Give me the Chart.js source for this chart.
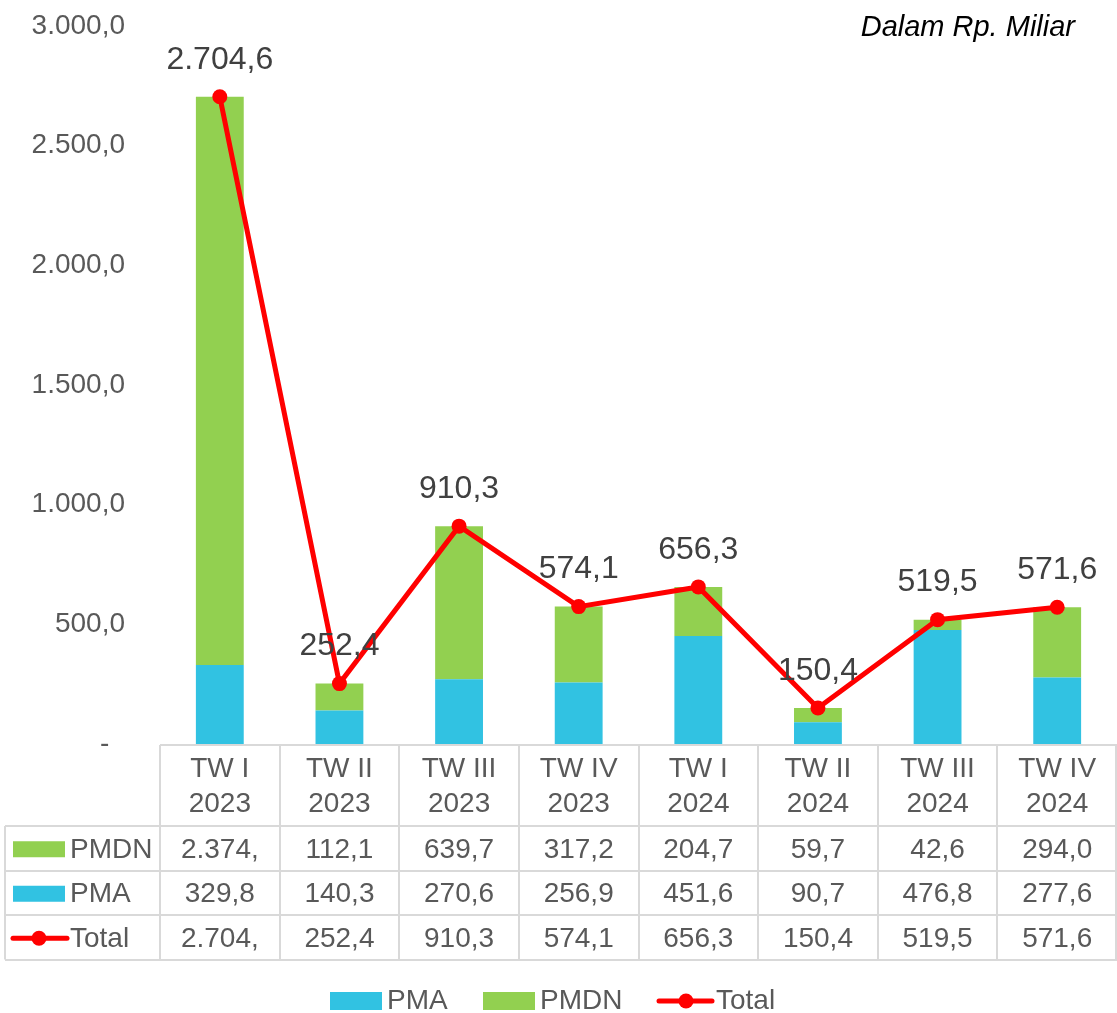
<!DOCTYPE html>
<html>
<head>
<meta charset="utf-8">
<script src="https://cdn.jsdelivr.net/npm/chart.js@4.4.1/dist/chart.umd.min.js"></script>
<style>
  html, body { margin: 0; padding: 0; background: #ffffff; }
  #wrap { position: relative; width: 1117px; height: 1013px; }
</style>
</head>
<body>
<div id="wrap"><canvas id="chart" width="1117" height="1013"></canvas></div>
<script>
// Quarterly investment realisation (Rp. miliar)
const quarters = ['TW I', 'TW II', 'TW III', 'TW IV', 'TW I', 'TW II', 'TW III', 'TW IV'];
const years = ['2023', '2023', '2023', '2023', '2024', '2024', '2024', '2024'];
const pmaValues = [329.8, 140.3, 270.6, 256.9, 451.6, 90.7, 476.8, 277.6];
const pmdnValues = [2374.8, 112.1, 639.7, 317.2, 204.7, 59.7, 42.6, 294.0];
const totalValues = [2704.6, 252.4, 910.3, 574.1, 656.3, 150.4, 519.5, 571.6];
const yTicks = [0, 500, 1000, 1500, 2000, 2500, 3000];

const COLOR_PMA = '#31C2E2';
const COLOR_PMDN = '#92D050';
const COLOR_TOTAL = '#FF0000';
const TEXT = '#595959';
const GRID = '#D9D9D9';
const FONT = '"Liberation Sans", Arial, sans-serif';
const PLOT_TOP = 26;

const fmt = v => v.toLocaleString('id-ID', { minimumFractionDigits: 1, maximumFractionDigits: 1 });

// cut trailing characters until the text fits its cell
function fitText(ctx, s, maxW) {
  let t = s;
  while (t.length > 1 && ctx.measureText(t).width > maxW) t = t.slice(0, -1);
  return t;
}

const labels = quarters.map((q, i) => [q, years[i]]);

// Data table under the plot plus the bottom legend and value labels
const extras = {
  id: 'extras',
  afterDatasetsDraw(chart) {
    const ctx = chart.ctx;
    const meta = chart.getDatasetMeta(2);
    ctx.save();
    ctx.font = '32px ' + FONT;
    ctx.fillStyle = '#404040';
    ctx.textAlign = 'center';
    ctx.textBaseline = 'middle';
    meta.data.forEach((pt, i) => {
      ctx.fillText(fmt(totalValues[i]), pt.x, pt.y - 37);
    });
    ctx.restore();
  },
  afterDraw(chart) {
    const ctx = chart.ctx;
    const x = chart.scales.x;
    const area = chart.chartArea;
    const n = quarters.length;
    const colW = (area.right - area.left) / n;
    const top = area.bottom + 1;
    const headH = 81, rowH = 44.5;
    const tableLeft = 5;
    const rowsTop = top + headH;
    const bottom = rowsTop + rowH * 3;

    ctx.save();
    ctx.strokeStyle = GRID;
    ctx.lineWidth = 2;
    ctx.beginPath();
    ctx.moveTo(area.left, top); ctx.lineTo(area.right, top);
    for (let i = 0; i <= n; i++) {
      const cx = Math.min(Math.round(area.left + i * colW), area.right - 1);
      ctx.moveTo(cx, top); ctx.lineTo(cx, bottom);
    }
    for (let r = 0; r <= 3; r++) {
      const y = Math.round(rowsTop + r * rowH);
      ctx.moveTo(tableLeft, y); ctx.lineTo(area.right, y);
    }
    ctx.moveTo(tableLeft, rowsTop); ctx.lineTo(tableLeft, bottom);
    ctx.stroke();

    ctx.fillStyle = TEXT;
    ctx.font = '28px ' + FONT;
    ctx.textAlign = 'center';
    ctx.textBaseline = 'middle';
    for (let i = 0; i < n; i++) {
      const cx = x.getPixelForValue(i);
      ctx.fillText(quarters[i], cx, top + 24);
      ctx.fillText(years[i], cx, top + 59);
    }

    const rows = [
      { name: 'PMDN', values: pmdnValues, key: 'bar', color: COLOR_PMDN },
      { name: 'PMA', values: pmaValues, key: 'bar', color: COLOR_PMA },
      { name: 'Total', values: totalValues, key: 'line', color: COLOR_TOTAL }
    ];
    rows.forEach((row, r) => {
      const cy = rowsTop + r * rowH + rowH / 2 + 2;
      if (row.key === 'bar') {
        ctx.fillStyle = row.color;
        ctx.fillRect(13, cy - 9, 52, 16);
      } else {
        ctx.strokeStyle = row.color;
        ctx.lineWidth = 5;
        ctx.lineCap = 'round';
        ctx.beginPath(); ctx.moveTo(13, cy - 1); ctx.lineTo(67, cy - 1); ctx.stroke();
        ctx.fillStyle = row.color;
        ctx.beginPath(); ctx.arc(39, cy - 1, 7.5, 0, Math.PI * 2); ctx.fill();
      }
      ctx.fillStyle = TEXT;
      ctx.textAlign = 'left';
      ctx.fillText(row.name, 70, cy);
      ctx.textAlign = 'center';
      row.values.forEach((v, i) => {
        const cx = x.getPixelForValue(i);
        ctx.fillText(fitText(ctx, fmt(v), colW - 36), cx, cy);
      });
    });

    // bottom legend
    const ly = 1001;
    ctx.font = '28px ' + FONT;
    ctx.textAlign = 'left';
    ctx.fillStyle = COLOR_PMA; ctx.fillRect(330, ly - 9, 52, 18);
    ctx.fillStyle = TEXT; ctx.fillText('PMA', 387, ly);
    ctx.fillStyle = COLOR_PMDN; ctx.fillRect(483, ly - 9, 52, 18);
    ctx.fillStyle = TEXT; ctx.fillText('PMDN', 540, ly);
    ctx.strokeStyle = COLOR_TOTAL; ctx.lineWidth = 5; ctx.lineCap = 'round';
    ctx.beginPath(); ctx.moveTo(659, ly); ctx.lineTo(712, ly); ctx.stroke();
    ctx.fillStyle = COLOR_TOTAL;
    ctx.beginPath(); ctx.arc(686, ly, 7.5, 0, Math.PI * 2); ctx.fill();
    ctx.fillStyle = TEXT; ctx.fillText('Total', 716, ly);

    // unit note
    ctx.fillStyle = '#000000';
    ctx.font = 'italic 29px ' + FONT;
    ctx.textAlign = 'right';
    ctx.textBaseline = 'alphabetic';
    ctx.fillText('Dalam Rp. Miliar', 1075, 36);
    ctx.restore();
  }
};

new Chart(document.getElementById('chart'), {
  data: {
    labels: labels,
    datasets: [
      {
        type: 'bar', label: 'PMA', data: pmaValues, backgroundColor: COLOR_PMA,
        stack: 'bars', order: 2, categoryPercentage: 1, barPercentage: 0.4
      },
      {
        type: 'bar', label: 'PMDN', data: pmdnValues, backgroundColor: COLOR_PMDN,
        stack: 'bars', order: 2, categoryPercentage: 1, barPercentage: 0.4
      },
      {
        type: 'line', label: 'Total', data: totalValues, borderColor: COLOR_TOTAL,
        backgroundColor: COLOR_TOTAL, borderWidth: 5, pointRadius: 7.5, pointHoverRadius: 7.5,
        pointBackgroundColor: COLOR_TOTAL, pointBorderWidth: 0, tension: 0,
        stack: 'line', order: 1
      }
    ]
  },
  options: {
    responsive: false,
    animation: false,
    layout: { autoPadding: false, padding: { top: 0, bottom: 269, left: 0, right: 0 } },
    plugins: { legend: { display: false }, tooltip: { enabled: false } },
    scales: {
      x: { display: false, stacked: true, offset: true },
      y: {
        stacked: true, min: 0, max: 3000,
        afterBuildTicks: s => { s.ticks = yTicks.map(v => ({ value: v })); },
        afterFit: s => { s.width = 160; s.paddingTop = 0; s.paddingBottom = 0; },
        grid: { display: false, drawTicks: false },
        border: { display: false },
        ticks: {
          padding: 35, color: TEXT, font: { family: FONT, size: 28 },
          callback: v => v === 0 ? '-  ' : fmt(v)
        }
      }
    }
  },
  plugins: [extras, {
    id: 'plotTop',
    beforeLayout(chart) { chart.options.layout.padding.top = PLOT_TOP; }
  }]
});
</script>
</body>
</html>
